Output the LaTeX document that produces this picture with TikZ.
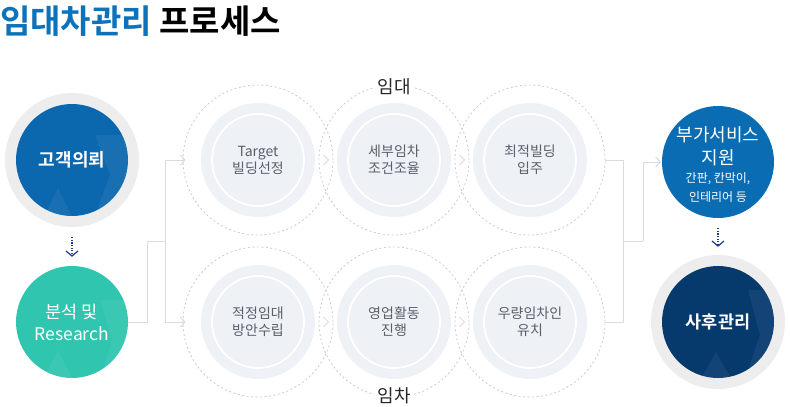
\documentclass[tikz,border=0pt]{standalone}
\usepackage{fontspec}
\setmainfont{Noto Sans CJK KR}[BoldFont={Noto Sans CJK KR Bold}]
\usetikzlibrary{arrows.meta}
\definecolor{titleblue}{HTML}{0B72BB}
\definecolor{blueA}{HTML}{0B67AE}
\definecolor{tealA}{HTML}{2FC5AE}
\definecolor{blueB}{HTML}{0A6DB4}
\definecolor{navyA}{HTML}{063A6D}
\definecolor{ringgray}{HTML}{EDEDED}
\definecolor{lightfill}{HTML}{EEF1F5}
\definecolor{dashgray}{HTML}{C9CBCE}
\definecolor{conngray}{HTML}{D9DBDE}
\definecolor{stepText}{HTML}{59606C}
\definecolor{dotnavy}{HTML}{1E3A88}
\tikzset{
  ring/.style={circle, fill=ringgray, inner sep=0, minimum size=134},
  bigc/.style={circle, inner sep=0, minimum size=112, text=white, align=center},
  dashc/.style={circle, draw=dashgray, dash pattern=on 2pt off 2.5pt, line width=0.8pt, inner sep=0, minimum size=150},
  stepc/.style={circle, fill=lightfill, inner sep=0, minimum size=114, align=center, text=stepText,
    font=\fontsize{14}{17}\selectfont,
    path picture={\draw[white, line width=1.8pt] (path picture bounding box.center) circle[radius=46pt];}},
  conn/.style={draw=conngray, line width=1pt},
  connarr/.style={conn, -{Straight Barb[length=4.5pt, width=10pt, line width=1pt]}},
  chev/.style={draw=conngray, line width=1pt},
  dotarr/.style={draw=dotnavy, line width=1.2pt, dash pattern=on 1.2pt off 1.4pt, -{Straight Barb[length=5pt, width=12pt, line width=1.2pt]}},
  lbl/.style={fill=white, inner sep=3pt, text=black!85, font=\fontsize{18}{20}\selectfont},
  deco/.style={fill=white, opacity=0.055},
}
\begin{document}
\begin{tikzpicture}[x=1pt, y=-1pt]
\useasboundingbox (0,0) rectangle (790,407);

% title
\node[anchor=west, inner sep=0, font=\bfseries\fontsize{33}{36}\selectfont] (title) at (0,21)
  {\textcolor{titleblue}{임대차관리} 프로세스};

% left column
\node[ring] (c1ring) at (72,160) {};
\node[bigc, fill=blueA] (c1) at (72,160) {};
\begin{scope}
  \clip (72,160) circle[radius=56pt];
  \fill[deco] (40,225) -- (58,188) -- (76,225) -- cycle;
  \fill[deco] (95,135) -- (135,135) -- (135,215) -- (95,215) -- (110,175) -- cycle;
\end{scope}
\node[bigc, fill=tealA] (c2) at (72,322) {};
\begin{scope}
  \clip (72,322) circle[radius=56pt];
  \fill[deco] (40,385) -- (58,350) -- (76,385) -- cycle;
  \fill[deco] (100,300) -- (135,300) -- (135,380) -- (100,380) -- (112,340) -- cycle;
\end{scope}
\node[font=\bfseries\fontsize{18}{20}\selectfont, text=white] (c1t) at (72,160) {고객의뢰};
\node[font=\fontsize{17.5}{22}\selectfont, text=white, align=center] (c2t) at (72,322) {분석 및\\Research};
\draw[dotarr] ([yshift=-10pt]c1ring.south) -- ([yshift=9pt]c2.north);

% dashed outer circles
\node[dashc] (d1) at (258,160) {};
\node[dashc] (d2) at (394,160) {};
\node[dashc] (d3) at (530,160) {};
\node[dashc] (d4) at (258,322) {};
\node[dashc] (d5) at (394,322) {};
\node[dashc] (d6) at (530,322) {};

% step circles
\node[stepc] (s1) at (258,160) {Target\\빌딩선정};
\node[stepc] (s2) at (394,160) {세부임차\\조건조율};
\node[stepc] (s3) at (530,160) {최적빌딩\\입주};
\node[stepc] (s4) at (258,322) {적정임대\\방안수립};
\node[stepc] (s5) at (394,322) {영업활동\\진행};
\node[stepc] (s6) at (530,322) {우량임차인\\유치};

% chevrons between steps
\foreach \cx/\cy in {326/160, 462/160, 326/322, 462/322}{
  \draw[chev] (\cx-2.5,\cy-5) -- (\cx+2.5,\cy) -- (\cx-2.5,\cy+5);
}

% labels
\node[lbl] (lim) at (394,87) {임대};
\node[lbl] (lic) at (394,396) {임차};

% left connectors
\coordinate (jl) at (147,241);
\coordinate (jv) at (165,241);
\draw[conn] (c2.east) -| (jl) -- (jv);
\draw[connarr] (jv) |- ([xshift=3pt]d1.west);
\draw[connarr] (jv) |- ([xshift=3pt]d4.west);

% right connectors
\coordinate (jr) at (623,241);
\coordinate (jr2) at (643,241);
\draw[conn] (d3.east) -| (jr);
\draw[conn] (d6.east) -| (jr);
\draw[conn] (jr) -- (jr2);

% right column
\node[bigc, fill=blueB] (b1) at (718,162) {};
\draw[connarr] (jr2) |- ([xshift=-1pt]b1.west);
\node[text=white, align=center, font=\fontsize{18}{23}\selectfont] (b1a) at (718,146) {부가서비스\\지원};
\node[text=white, align=center, font=\fontsize{12}{19}\selectfont] (b1b) at (718,187.5) {간판, 칸막이,\\인테리어 등};

\node[ring] (c4ring) at (718,322) {};
\node[bigc, fill=navyA] (c4) at (718,322) {};
\begin{scope}
  \clip (718,322) circle[radius=56pt];
  \fill[deco] (700,380) -- (716,352) -- (732,380) -- cycle;
  \fill[deco] (748,290) -- (780,290) -- (780,370) -- (748,370) -- (760,335) -- cycle;
\end{scope}
\node[text=white, font=\bfseries\fontsize{17.5}{20}\selectfont] (c4t) at (718,322) {사후관리};
\draw[dotarr] ([yshift=-10pt]b1.south) -- ([yshift=8pt]c4ring.north);
\end{tikzpicture}
\end{document}
